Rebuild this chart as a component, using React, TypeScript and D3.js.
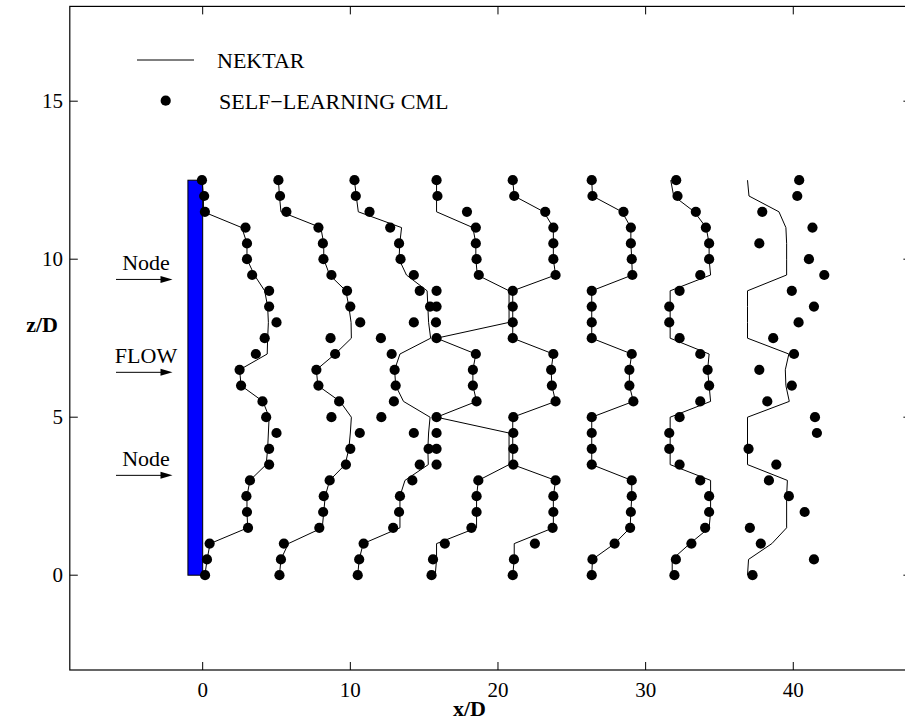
import React from 'react';
import * as d3 from 'd3';

// Spanwise stations (z/D) at which each wake profile is sampled, top to bottom
const zLevels = [12.5, 12, 11.5, 11, 10.5, 10, 9.5, 9, 8.5, 8, 7.5, 7, 6.5, 6, 5.5, 5, 4.5, 4, 3.5, 3, 2.5, 2, 1.5, 1, 0.5, 0];

// SELF-LEARNING CML: streamwise position x/D of each profile at the stations above
const cml1 = [-0.05, 0.1, 0.15, 2.9, 3.0, 3.0, 3.35, 4.5, 4.5, 5.0, 4.2, 3.6, 2.5, 2.6, 4.05, 4.3, 5.0, 4.5, 4.5, 3.2, 2.96, 3.0, 3.07, 0.47, 0.29, 0.16];
const cml2 = [5.13, 5.24, 5.67, 7.84, 8.14, 8.18, 8.72, 9.78, 10.0, 10.67, 8.66, 8.97, 7.7, 7.84, 9.24, 8.72, 10.64, 10.0, 9.7, 8.6, 8.2, 8.16, 7.9, 5.5, 5.3, 5.2];
const cml3 = [10.28, 10.37, 11.3, 12.7, 13.3, 13.4, 14.3, 14.7, 15.4, 14.3, 12.07, 12.8, 13.0, 13.07, 12.95, 12.1, 14.3, 15.3, 14.7, 14.2, 13.36, 13.3, 12.9, 10.9, 10.6, 10.5];
const cml4 = [15.84, 15.9, 17.9, 18.5, 18.5, 18.55, 18.7, 15.84, 15.84, 15.8, 15.84, 18.5, 18.3, 18.3, 18.55, 15.84, 15.84, 15.84, 15.84, 18.67, 18.55, 18.55, 18.2, 16.4, 15.6, 15.5];
const cml5 = [21.0, 21.1, 23.2, 23.75, 23.75, 23.75, 23.9, 21.0, 21.0, 21.0, 21.0, 23.75, 23.6, 23.65, 23.9, 21.04, 21.04, 21.04, 21.04, 23.9, 23.75, 23.75, 23.7, 22.5, 21.08, 21.0];
const cml6 = [26.35, 26.4, 28.5, 29.0, 29.0, 29.06, 29.1, 26.35, 26.35, 26.35, 26.35, 29.06, 28.9, 28.9, 29.17, 26.35, 26.35, 26.35, 26.35, 29.06, 29.06, 29.0, 28.95, 27.9, 26.4, 26.35];
const cml7 = [32.07, 32.16, 33.4, 34.08, 34.3, 34.3, 33.7, 32.3, 31.6, 31.6, 32.3, 33.7, 34.2, 34.3, 33.7, 32.3, 31.6, 31.6, 32.3, 33.7, 34.3, 34.3, 34.03, 33.1, 32.05, 31.95];
const cml8 = [40.4, 40.27, 37.9, 41.3, 37.7, 41.06, 42.1, 39.9, 41.4, 40.36, 38.64, 40.05, 37.7, 39.9, 38.24, 41.47, 41.6, 36.97, 38.85, 38.35, 39.7, 40.77, 37.06, 37.8, 41.4, 37.24];

// NEKTAR: streamwise position x/D of each profile at the same stations
const nek1 = [-0.05, 0.05, 0.05, 2.65, 3.0, 3.0, 3.5, 4.2, 4.4, 4.45, 4.4, 4.37, 2.5, 2.6, 4.08, 4.5, 4.45, 4.4, 4.3, 3.2, 3.0, 3.0, 3.05, 0.5, 0.3, 0.15];
const nek2 = [5.13, 5.2, 5.3, 8.0, 8.2, 8.2, 8.6, 9.7, 9.9, 10.05, 10.07, 8.97, 7.7, 7.8, 9.3, 10.07, 10.0, 9.9, 9.65, 8.6, 8.3, 8.2, 8.1, 5.8, 5.3, 5.2];
const nek3 = [10.28, 10.4, 10.54, 13.47, 13.35, 13.3, 13.8, 15.2, 15.25, 15.3, 15.44, 13.36, 13.0, 13.07, 13.6, 15.4, 15.3, 15.25, 15.28, 13.7, 13.36, 13.36, 13.36, 10.87, 10.6, 10.5];
const nek4 = [15.84, 15.84, 15.84, 18.3, 18.5, 18.5, 18.6, 20.75, 20.75, 20.75, 15.84, 18.5, 18.3, 18.3, 18.55, 15.84, 20.75, 20.75, 20.75, 18.67, 18.55, 18.55, 18.55, 15.84, 15.84, 15.75];
const nek5 = [21.0, 21.1, 23.1, 23.75, 23.75, 23.75, 23.9, 21.0, 21.0, 21.0, 21.0, 23.75, 23.6, 23.65, 23.9, 21.0, 21.0, 21.0, 21.0, 23.9, 23.75, 23.75, 23.75, 21.1, 21.1, 21.0];
const nek6 = [26.35, 26.4, 28.4, 29.0, 29.0, 29.06, 29.1, 26.35, 26.35, 26.35, 26.35, 29.06, 28.9, 28.9, 29.17, 26.35, 26.35, 26.35, 26.35, 29.06, 29.06, 29.0, 28.95, 27.9, 26.4, 26.35];
const nek7 = [31.7, 31.9, 33.3, 34.1, 34.3, 34.3, 34.4, 31.66, 31.66, 31.66, 31.66, 34.3, 34.2, 34.3, 34.4, 31.66, 31.66, 31.66, 31.66, 34.4, 34.4, 34.4, 34.3, 33.0, 31.8, 31.8];
const nek8 = [36.9, 37.0, 39.03, 39.5, 39.55, 39.55, 39.55, 36.9, 36.9, 36.9, 36.9, 39.7, 39.46, 39.5, 39.73, 36.9, 36.9, 36.9, 36.9, 39.6, 39.55, 39.55, 39.55, 38.55, 36.97, 36.9];

const cmlProfiles = [cml1, cml2, cml3, cml4, cml5, cml6, cml7, cml8];
const nektarProfiles = [nek1, nek2, nek3, nek4, nek5, nek6, nek7, nek8];

// Cylinder cross-section (x/D from..to, z/D from..to)
const cylinderX = [-1, 0];
const cylinderZ = [0, 12.5];

const xTicks = [0, 10, 20, 30, 40];
const zTicks = [0, 5, 10, 15];

// Inflow annotations: label text and z/D of the arrow
const inflowLabels = ['Node', 'FLOW', 'Node'];
const inflowArrowZ = [9.36, 6.42, 3.16];

const legendNames = ['NEKTAR', 'SELF\u2212LEARNING CML'];

const serif = '"Liberation Serif", "Times New Roman", Times, serif';

export default function App() {
  const width = 905;
  const height = 724;
  const x = d3.scaleLinear().domain([-9, 48]).range([69.8, 911.4]);
  const y = d3.scaleLinear().domain([-3, 18]).range([670, 6.4]);

  const line = d3
    .line<[number, number]>()
    .x((d) => x(d[0]))
    .y((d) => y(d[1]));

  const x0 = x(-9);
  const x1 = x(48);
  const yTop = y(18);
  const yBot = y(-3);
  const tick = 8;

  return (
    <div style={{ position: 'absolute', left: 0, top: 0 }}>
      <svg width={width} height={height} style={{ display: 'block', background: '#fff' }}>
        <rect x={0} y={0} width={width} height={height} fill="#fff" />

        {/* cylinder */}
        <rect
          x={x(cylinderX[0])}
          y={y(cylinderZ[1])}
          width={x(cylinderX[1]) - x(cylinderX[0])}
          height={y(cylinderZ[0]) - y(cylinderZ[1])}
          fill="#0000ff"
          stroke="#000"
          strokeWidth={1}
        />

        {/* NEKTAR profiles */}
        {nektarProfiles.map((p, i) => (
          <path
            key={'n' + i}
            d={line(p.map((v, k) => [v, zLevels[k]] as [number, number])) || ''}
            fill="none"
            stroke="#000"
            strokeWidth={1}
          />
        ))}

        {/* CML profiles */}
        {cmlProfiles.map((p, i) =>
          p.map((v, k) => (
            <circle key={'c' + i + '-' + k} cx={x(v)} cy={y(zLevels[k])} r={5.1} fill="#000" />
          ))
        )}

        {/* frame */}
        <rect x={x0} y={yTop} width={x1 - x0} height={yBot - yTop} fill="none" stroke="#000" strokeWidth={1.2} />

        {/* x ticks */}
        {xTicks.map((t) => (
          <g key={'xt' + t}>
            <line x1={x(t)} x2={x(t)} y1={yBot} y2={yBot - tick} stroke="#000" strokeWidth={1} />
            <line x1={x(t)} x2={x(t)} y1={yTop} y2={yTop + tick} stroke="#000" strokeWidth={1} />
            <text x={x(t)} y={697} textAnchor="middle" fontFamily={serif} fontSize={21} fill="#000">
              {t}
            </text>
          </g>
        ))}

        {/* z ticks */}
        {zTicks.map((t) => (
          <g key={'zt' + t}>
            <line x1={x0} x2={x0 + tick} y1={y(t)} y2={y(t)} stroke="#000" strokeWidth={1} />
            <line x1={x1} x2={x1 - tick} y1={y(t)} y2={y(t)} stroke="#000" strokeWidth={1} />
            <text x={63} y={y(t) + 7} textAnchor="end" fontFamily={serif} fontSize={21} fill="#000">
              {t}
            </text>
          </g>
        ))}

        {/* axis titles */}
        <text x={453} y={716} fontFamily={serif} fontSize={22} fontWeight="bold" fill="#000">
          x/D
        </text>
        <text x={58} y={332} textAnchor="end" fontFamily={serif} fontSize={22} fontWeight="bold" fill="#000">
          z/D
        </text>

        {/* legend */}
        <line x1={137} x2={194} y1={60} y2={60} stroke="#000" strokeWidth={1} />
        <text x={217} y={68} fontFamily={serif} fontSize={22} fill="#000">
          {legendNames[0]}
        </text>
        <circle cx={165.7} cy={100.7} r={5.1} fill="#000" />
        <text x={219} y={109} fontFamily={serif} fontSize={22} fill="#000">
          {legendNames[1]}
        </text>

        {/* inflow arrows */}
        {inflowLabels.map((lab, i) => {
          const ay = y(inflowArrowZ[i]);
          const ax0 = 116;
          const ax1 = 172.5;
          return (
            <g key={'a' + i}>
              <text x={146} y={ay - 9.5} textAnchor="middle" fontFamily={serif} fontSize={22} fill="#000">
                {lab}
              </text>
              <line x1={ax0} x2={ax1 - 11} y1={ay} y2={ay} stroke="#000" strokeWidth={1} />
              <path d={`M${ax1},${ay} L${ax1 - 12},${ay - 3.5} L${ax1 - 12},${ay + 3.5} Z`} fill="#000" />
            </g>
          );
        })}
      </svg>
    </div>
  );
}
